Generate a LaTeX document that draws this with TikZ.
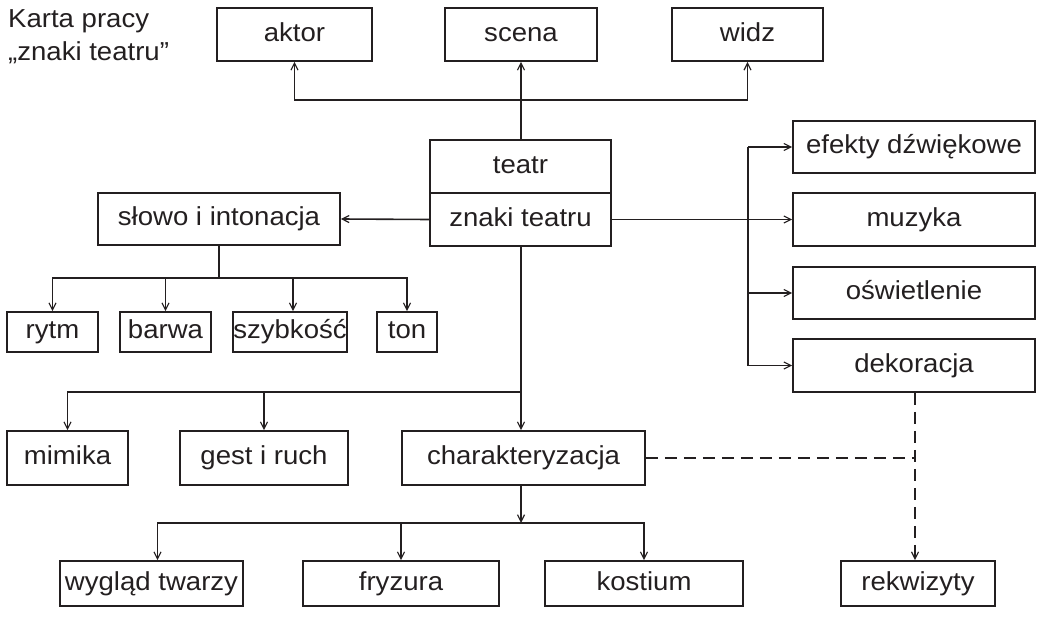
\documentclass[tikz,border=0pt]{standalone}
\usepackage{fontspec}
\setmainfont{Liberation Sans}[FakeStretch=1.06]
\usetikzlibrary{arrows.meta}
\definecolor{ink}{HTML}{231F20}
\tikzset{
  box/.style={draw=ink, line width=1.6pt, inner sep=0pt, text=ink,
    text height=19pt, text depth=5.5pt,
    font=\fontsize{26}{30}\selectfont},
  conn/.style={draw=ink, line width=1.6pt},
  thin conn/.style={draw=ink, line width=1.3pt},
  arr/.style={-{Straight Barb[length=7pt,width=7pt,line width=1.2pt]}},
  dsh/.style={draw=ink, line width=1.6pt, dash pattern=on 12pt off 7pt},
  lbl/.style={anchor=base west, inner sep=0pt, text=ink, font=\fontsize{26}{30}\selectfont}
}
\begin{document}
\begin{tikzpicture}[x=1pt,y=-1pt]
\useasboundingbox (0,0) rectangle (1041,618);
% title
\node[lbl] (t1) at (8,28) {Karta pracy};
\node[lbl] (t2) at (8,61) {„znaki teatru”};
% top boxes
\node[box, minimum width=155pt, minimum height=53pt] (aktor) at (294.5,34.5) {aktor};
\node[box, minimum width=152pt, minimum height=53pt] (scena) at (521,34.5) {scena};
\node[box, minimum width=151pt, minimum height=53pt] (widz) at (747.5,34.5) {widz};
% centre
\node[box, minimum width=181pt, minimum height=53pt] (teatr) at (520.5,166.5) {teatr};
\node[box, minimum width=181pt, minimum height=53pt] (znaki) at (520.5,219.5) {znaki teatru};
% left
\node[box, minimum width=242pt, minimum height=52pt] (slowo) at (219,219) {słowo i intonacja};
\node[box, minimum width=91pt, minimum height=40pt] (rytm) at (52.5,332) {rytm};
\node[box, minimum width=91pt, minimum height=40pt] (barwa) at (165.5,332) {barwa};
\node[box, minimum width=114pt, minimum height=40pt] (szyb) at (290,332) {szybkość};
\node[box, minimum width=60pt, minimum height=40pt] (ton) at (407,332) {ton};
% right
\node[box, minimum width=242pt, minimum height=52pt] (efekty) at (914,147) {efekty dźwiękowe};
\node[box, minimum width=242pt, minimum height=53pt] (muzyka) at (914,219.5) {muzyka};
\node[box, minimum width=242pt, minimum height=52pt] (osw) at (914,293) {oświetlenie};
\node[box, minimum width=242pt, minimum height=53pt] (dekor) at (914,365.5) {dekoracja};
% lower
\node[box, minimum width=121pt, minimum height=54pt] (mimika) at (67.5,458) {mimika};
\node[box, minimum width=168pt, minimum height=54pt] (gest) at (264,458) {gest i ruch};
\node[box, minimum width=243pt, minimum height=54pt] (charakt) at (523.5,458) {charakteryzacja};
\node[box, minimum width=183pt, minimum height=45pt] (wyglad) at (151.5,583.5) {wygląd twarzy};
\node[box, minimum width=196pt, minimum height=45pt] (fryzura) at (401,583.5) {fryzura};
\node[box, minimum width=198pt, minimum height=45pt] (kostium) at (644,583.5) {kostium};
\node[box, minimum width=154pt, minimum height=45pt] (rekw) at (918,583.5) {rekwizyty};
% junction coordinates
\coordinate (topj) at (521,100);
\coordinate (rtop) at (748,147);
\coordinate (rbot) at (748,365.5);
\coordinate (sj) at (219,278);
\coordinate (mj) at (521,392);
\coordinate (cj) at (521,523);
% top connectors
\draw[conn, arr] (teatr.north -| topj) -- (topj |- scena.south);
\draw[conn, arr] (topj) -| (aktor.south);
\draw[conn, arr] (topj) -| (widz.south);
% centre to sides
\draw[conn, arr] (znaki.west) -- (slowo.east);
\draw[conn, arr] (znaki.east) -- (muzyka.west);
\draw[conn] (rtop) -- (rbot);
\draw[conn, arr] (rtop) -- (efekty.west);
\draw[conn, arr] (osw.west -| rtop) -- (osw.west);
\draw[conn, arr] (rbot) -- (dekor.west);
% slowo branch
\draw[conn] (slowo.south) -- (sj);
\draw[thin conn, arr] (sj) -| (rytm.north);
\draw[thin conn, arr] (sj) -| (barwa.north);
\draw[thin conn, arr] (sj) -| ([xshift=3pt]szyb.north);
\draw[thin conn, arr] (sj) -| (ton.north);
% main branch
\draw[conn] (znaki.south -| mj) -- (mj);
\draw[conn, arr] (mj) -| (mimika.north);
\draw[thin conn, arr] (mj) -| (gest.north);
\draw[thin conn, arr] (mj) -- (mj |- charakt.north);
% charakteryzacja branch
\draw[thin conn, arr] (charakt.south -| cj) -- (cj);
\draw[thin conn, arr] (cj) -| ([xshift=6pt]wyglad.north);
\draw[thin conn, arr] (cj) -| (fryzura.north);
\draw[thin conn, arr] (cj) -| (kostium.north);
% dashed
\coordinate (dj) at (915,458);
\draw[dsh] (charakt.east) -- (dj);
\draw[dsh, line width=1.3pt, arr] (dekor.south -| dj) -- (dj |- rekw.north);
\end{tikzpicture}
\end{document}
